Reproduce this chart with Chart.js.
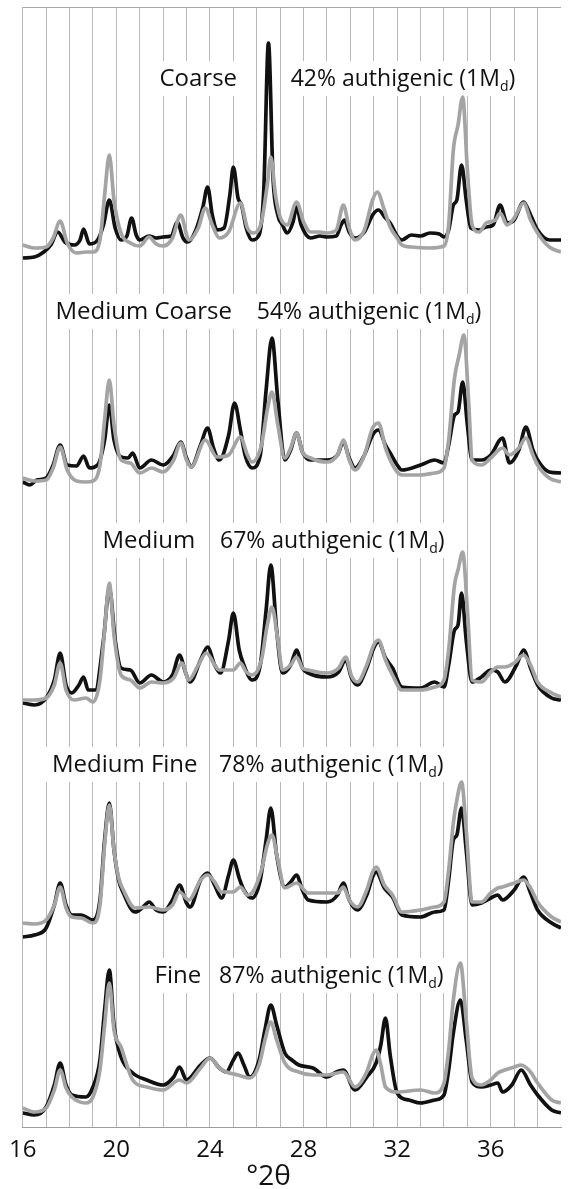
<!DOCTYPE html>
<html><head><meta charset="utf-8">
<script src="https://cdn.jsdelivr.net/npm/chart.js@4.4.1/dist/chart.umd.min.js"></script>
<style>html,body{margin:0;padding:0;background:#fff;}canvas{display:block;}</style>
</head><body>
<canvas id="c" width="570" height="1189"></canvas>
<script>
// ---------- data ----------
const xTickLabels = [16, 20, 24, 28, 32, 36];
const panelNames = ['Coarse', 'Medium Coarse', 'Medium', 'Medium Fine', 'Fine'];
const authigenicPct = [42, 54, 67, 78, 87];
const panelOffsets = [840, 620, 400, 180, 0];

const coarseBlack = [[16.0,29],[16.5,30],[16.9,35],[17.2,42],[17.5,55],[17.8,45],[18.2,42],[18.45,47],[18.6,58],[18.85,43],[19.2,47],[19.45,62],[19.7,87],[19.95,59],[20.2,47],[20.45,51],[20.65,69],[20.85,52],[21.0,47],[21.4,51],[21.7,49],[22.0,50],[22.35,51],[22.6,65],[22.85,49],[23.05,45],[23.4,57],[23.7,80],[23.9,100],[24.1,72],[24.3,57],[24.6,59],[24.85,92],[25.0,120],[25.2,89],[25.35,82],[25.55,59],[25.8,47],[26.1,52],[26.3,97],[26.5,244],[26.7,107],[26.9,72],[27.1,62],[27.3,54],[27.55,65],[27.7,80],[27.9,62],[28.3,49],[28.7,51],[29.0,50],[29.4,51],[29.6,62],[29.75,67],[29.95,55],[30.2,49],[30.6,55],[30.95,72],[31.2,77],[31.5,69],[31.7,64],[32.0,51],[32.2,47],[32.6,52],[33.0,51],[33.4,54],[33.8,53],[34.0,50],[34.2,57],[34.4,82],[34.55,87],[34.75,122],[34.95,87],[35.15,59],[35.5,57],[35.8,60],[36.1,62],[36.4,82],[36.7,64],[37.0,67],[37.4,85],[37.7,72],[38.0,57],[38.5,47],[39.0,47]];
const coarseGray = [[16.0,42],[16.5,39],[17.0,40],[17.3,49],[17.6,66],[17.9,44],[18.3,34],[18.7,35],[19.0,35],[19.3,47],[19.5,92],[19.7,132],[19.9,87],[20.2,54],[20.6,44],[21.0,41],[21.4,50],[21.7,43],[22.0,41],[22.4,49],[22.75,72],[23.1,47],[23.5,59],[23.8,79],[24.1,62],[24.4,49],[24.8,55],[25.3,84],[25.6,59],[25.85,54],[26.2,65],[26.45,102],[26.6,130],[26.8,92],[27.0,70],[27.3,62],[27.7,85],[28.0,65],[28.3,55],[28.7,55],[29.0,54],[29.4,57],[29.7,82],[29.95,59],[30.2,47],[30.6,57],[30.95,87],[31.15,95],[31.45,77],[31.7,60],[32.0,49],[32.2,42],[32.6,40],[33.4,39],[34.0,41],[34.2,62],[34.4,137],[34.6,162],[34.8,190],[35.0,117],[35.2,62],[35.5,55],[35.8,64],[36.2,67],[36.4,74],[36.7,62],[37.0,69],[37.4,84],[37.7,67],[38.0,54],[38.5,40],[39.0,35]];

const medCoarseBlack = [[16.0,25],[16.3,22],[16.6,27],[17.0,29],[17.3,42],[17.6,62],[17.9,42],[18.3,41],[18.6,51],[18.85,39],[19.2,42],[19.5,67],[19.7,102],[19.9,67],[20.2,50],[20.5,49],[20.7,54],[21.0,39],[21.5,47],[22.0,42],[22.45,52],[22.75,65],[23.0,49],[23.2,40],[23.6,62],[23.9,79],[24.15,59],[24.4,47],[24.8,72],[25.05,104],[25.3,77],[25.5,52],[25.8,39],[26.15,52],[26.4,117],[26.65,169],[26.9,107],[27.2,47],[27.45,57],[27.7,74],[27.95,55],[28.3,47],[29.0,47],[29.45,52],[29.7,65],[29.95,49],[30.2,39],[30.6,52],[30.95,72],[31.2,77],[31.5,62],[31.7,54],[32.0,42],[32.2,37],[33.0,42],[33.6,47],[34.0,44],[34.2,62],[34.45,92],[34.6,95],[34.8,125],[35.0,82],[35.2,47],[35.6,47],[36.0,52],[36.5,69],[36.8,44],[37.2,57],[37.5,80],[37.8,57],[38.0,47],[38.5,35],[39.0,34]];
const medCoarseGray = [[16.0,29],[16.5,26],[17.0,27],[17.3,39],[17.6,60],[17.9,37],[18.3,26],[18.7,25],[19.0,26],[19.3,42],[19.5,87],[19.7,127],[19.9,82],[20.2,47],[20.6,44],[21.0,34],[21.5,39],[22.0,35],[22.45,47],[22.75,64],[23.0,47],[23.2,40],[23.8,67],[24.3,50],[24.8,52],[25.3,70],[25.6,52],[25.8,45],[26.2,62],[26.45,97],[26.65,115],[26.9,82],[27.2,49],[27.45,59],[27.7,74],[27.95,55],[28.3,49],[29.0,45],[29.45,52],[29.7,67],[29.95,47],[30.2,37],[30.6,52],[30.95,79],[31.2,84],[31.5,59],[31.7,47],[32.0,35],[32.2,32],[33.0,32],[33.6,34],[34.0,39],[34.2,67],[34.45,129],[34.65,152],[34.85,172],[35.05,107],[35.2,47],[35.6,42],[36.0,49],[36.5,59],[36.8,52],[37.2,59],[37.5,69],[37.8,52],[38.0,42],[38.5,29],[39.0,25]];

const mediumBlack = [[16.0,24],[16.5,22],[17.0,29],[17.35,47],[17.6,74],[17.85,42],[18.1,34],[18.4,42],[18.6,50],[18.8,37],[19.1,37],[19.45,87],[19.7,139],[19.95,87],[20.2,59],[20.6,57],[21.0,44],[21.5,52],[22.0,45],[22.4,52],[22.7,72],[22.95,55],[23.15,45],[23.6,67],[23.9,80],[24.2,62],[24.45,54],[24.8,87],[25.0,114],[25.25,77],[25.45,62],[25.8,47],[26.15,62],[26.4,117],[26.6,162],[26.85,97],[27.1,54],[27.45,62],[27.7,77],[27.95,59],[28.2,54],[29.0,50],[29.5,55],[29.8,67],[30.05,49],[30.3,42],[30.7,59],[31.0,79],[31.2,85],[31.5,69],[31.8,59],[32.2,40],[33.0,39],[33.6,45],[34.0,40],[34.2,62],[34.45,97],[34.6,102],[34.75,134],[34.95,87],[35.2,45],[35.6,50],[36.0,57],[36.3,55],[36.6,45],[37.1,62],[37.4,77],[37.7,59],[38.0,42],[38.6,29],[39.0,27]];
const mediumGray = [[16.0,27],[16.5,27],[17.0,29],[17.35,42],[17.6,64],[17.85,37],[18.2,27],[18.7,29],[19.0,25],[19.3,47],[19.5,97],[19.7,144],[19.9,92],[20.2,52],[20.6,47],[21.0,39],[21.5,45],[22.0,44],[22.45,49],[22.8,64],[23.1,47],[23.5,62],[23.85,74],[24.2,62],[24.4,57],[25.0,57],[25.3,64],[25.55,55],[25.8,52],[26.2,67],[26.45,102],[26.65,120],[26.9,87],[27.1,57],[27.45,62],[27.7,70],[27.95,59],[28.2,57],[29.0,54],[29.5,59],[29.8,70],[30.05,51],[30.3,45],[30.7,62],[31.0,82],[31.2,87],[31.5,67],[31.8,52],[32.2,37],[33.0,37],[33.6,40],[34.0,47],[34.2,77],[34.45,142],[34.6,157],[34.8,175],[35.0,117],[35.2,47],[35.6,45],[36.0,55],[36.3,60],[36.6,60],[37.0,64],[37.4,72],[37.7,62],[38.0,45],[38.6,34],[39.0,30]];

const medFineBlack = [[16.0,10],[16.5,12],[17.0,19],[17.35,42],[17.6,64],[17.85,42],[18.1,32],[18.5,32],[19.0,27],[19.3,47],[19.5,107],[19.7,144],[19.9,97],[20.1,67],[20.3,54],[20.8,35],[21.1,39],[21.4,45],[21.7,37],[22.0,35],[22.4,47],[22.7,62],[23.0,44],[23.15,40],[23.6,67],[23.9,74],[24.2,62],[24.5,49],[24.8,72],[25.0,87],[25.25,69],[25.45,57],[25.8,49],[26.15,67],[26.4,107],[26.6,139],[26.85,92],[27.2,60],[27.45,65],[27.7,72],[27.95,57],[28.2,47],[29.0,45],[29.45,52],[29.7,64],[29.95,47],[30.3,37],[30.7,52],[30.95,70],[31.1,75],[31.45,59],[31.8,50],[32.2,32],[33.0,30],[33.6,35],[34.0,37],[34.2,67],[34.4,107],[34.55,112],[34.75,139],[34.95,97],[35.2,42],[35.6,44],[36.0,49],[36.3,52],[36.5,47],[37.0,57],[37.4,70],[37.7,54],[38.0,37],[38.6,24],[39.0,19]];
const medFineGray = [[16.0,24],[16.5,23],[17.0,27],[17.35,42],[17.6,60],[17.85,39],[18.1,30],[18.5,29],[19.0,24],[19.3,42],[19.5,102],[19.7,142],[19.9,97],[20.1,69],[20.3,57],[20.8,39],[21.4,40],[22.0,37],[22.4,42],[22.7,55],[23.1,47],[23.6,67],[23.9,72],[24.2,65],[24.5,55],[25.0,55],[25.3,60],[25.6,52],[25.8,54],[26.2,77],[26.45,102],[26.65,112],[26.9,87],[27.2,59],[27.7,64],[28.2,54],[29.0,54],[29.45,54],[29.7,60],[29.95,47],[30.3,40],[30.7,57],[30.95,75],[31.1,80],[31.45,62],[31.8,52],[32.2,35],[33.0,37],[33.6,40],[34.0,45],[34.2,77],[34.4,124],[34.55,147],[34.75,165],[34.95,117],[35.2,45],[35.6,45],[36.0,54],[36.3,59],[36.5,60],[37.0,64],[37.4,67],[37.7,59],[38.0,45],[38.6,30],[39.0,25]];

const fineBlack = [[16.0,14],[16.5,12],[17.0,20],[17.35,42],[17.6,64],[17.85,42],[18.1,32],[18.7,30],[19.0,40],[19.3,67],[19.5,117],[19.7,157],[19.9,102],[20.2,70],[20.7,54],[21.3,47],[22.0,42],[22.45,50],[22.7,60],[23.0,47],[23.6,62],[24.0,69],[24.4,59],[24.7,55],[25.0,67],[25.2,74],[25.45,62],[25.7,50],[26.1,67],[26.35,97],[26.6,122],[26.85,102],[27.2,74],[27.5,67],[27.8,62],[28.4,59],[29.0,50],[29.4,55],[29.7,57],[30.2,37],[30.7,50],[31.1,64],[31.3,82],[31.5,109],[31.7,72],[32.0,34],[32.5,27],[33.0,24],[33.6,27],[34.0,32],[34.2,57],[34.4,94],[34.7,127],[34.95,87],[35.2,45],[35.6,40],[36.0,42],[36.3,44],[36.5,35],[36.9,42],[37.3,57],[37.7,42],[38.0,32],[38.6,17],[39.0,14]];
const fineGray = [[16.0,19],[16.5,15],[17.0,19],[17.35,37],[17.6,57],[17.85,39],[18.1,30],[18.7,24],[19.0,30],[19.3,57],[19.5,102],[19.7,144],[19.9,97],[20.2,80],[20.7,47],[21.3,40],[22.0,37],[22.7,47],[23.0,44],[23.6,59],[24.0,69],[24.4,59],[24.7,55],[25.2,52],[25.7,49],[26.1,62],[26.35,87],[26.6,105],[26.85,87],[27.2,64],[27.8,55],[28.4,52],[29.0,52],[29.7,55],[30.2,40],[30.7,55],[30.95,72],[31.1,77],[31.3,62],[31.5,40],[32.0,35],[33.0,37],[33.6,34],[34.0,44],[34.2,77],[34.4,127],[34.7,164],[34.95,107],[35.2,49],[35.6,42],[36.0,47],[36.3,54],[36.6,57],[37.0,60],[37.3,62],[37.7,55],[38.0,44],[38.6,27],[39.0,24]];

const blackSeries = [coarseBlack, medCoarseBlack, mediumBlack, medFineBlack, fineBlack];
const graySeries = [coarseGray, medCoarseGray, mediumGray, medFineGray, fineGray];

// label anchors (x in °2θ, y = text baseline in plotted value units)
const nameLabelX = [23.5, 21.17, 21.39, 20.36, 22.63];
const pctLabelX = [27.45, 26.0, 24.43, 24.39, 24.39];
const labelBaseline = [1041, 808, 579, 355, 144];

// ---------- chart ----------
const FONT = '"Open Sans", "Noto Sans", sans-serif';
const datasets = [];
graySeries.forEach((s, i) => datasets.push({
  data: s.map(([x, v]) => ({x, y: v + panelOffsets[i]})),
  borderColor: '#a4a4a4', borderWidth: 3.7, order: 0
}));
blackSeries.forEach((s, i) => datasets.push({
  data: s.map(([x, v]) => ({x, y: v + panelOffsets[i]})),
  borderColor: '#111111', borderWidth: 3.7, order: 1
}));

function boxText(ctx, x, by, parts) {
  let w = 0;
  parts.forEach(p => { ctx.font = p.size + 'px ' + FONT; p.w = ctx.measureText(p.t).width; w += p.w; });
  ctx.fillStyle = '#fff';
  ctx.fillRect(x - 6, by - 25, w + 12, 35);
  ctx.fillStyle = '#111';
  ctx.textAlign = 'left'; ctx.textBaseline = 'alphabetic';
  let cx = x;
  parts.forEach(p => { ctx.font = p.size + 'px ' + FONT; ctx.fillText(p.t, cx, by + (p.dy || 0)); cx += p.w; });
  return w;
}

const annot = {
  id: 'annot',
  beforeDatasetsDraw(chart) {
    const {ctx, chartArea, scales: {x, y}} = chart;
    ctx.save();
    ctx.strokeStyle = '#a8a8a8'; ctx.lineWidth = 1;
    ctx.beginPath(); ctx.moveTo(chartArea.left, chartArea.top + 0.5); ctx.lineTo(chartArea.right, chartArea.top + 0.5); ctx.stroke();
    panelNames.forEach((name, i) => {
      const by = y.getPixelForValue(labelBaseline[i]);
      ctx.font = '24px ' + FONT;
      const nw = ctx.measureText(name).width;
      boxText(ctx, x.getPixelForValue(nameLabelX[i]) - nw / 2, by, [{t: name, size: 24}]);
      boxText(ctx, x.getPixelForValue(pctLabelX[i]), by, [
        {t: authigenicPct[i] + '% authigenic (1M', size: 23},
        {t: 'd', size: 14, dy: 5},
        {t: ')', size: 23}
      ]);
    });
    ctx.restore();
  },
  afterDraw(chart) {
    const {ctx, scales: {x}} = chart;
    ctx.save();
    ctx.font = '28px ' + FONT; ctx.fillStyle = '#111';
    ctx.textAlign = 'center'; ctx.textBaseline = 'alphabetic';
    ctx.fillText('°2θ', x.getPixelForValue(26.5), chart.height - 4);
    ctx.restore();
  }
};

new Chart(document.getElementById('c'), {
  type: 'line',
  data: {datasets},
  plugins: [annot],
  options: {
    responsive: false, animation: false, devicePixelRatio: 1,
    layout: {padding: {left: 14, top: 7, right: 0, bottom: 0}},
    elements: {point: {radius: 0}, line: {cubicInterpolationMode: 'monotone'}},
    plugins: {legend: {display: false}, tooltip: {enabled: false}},
    scales: {
      x: {
        type: 'linear', min: 16, max: 39,
        afterFit(s) { s.height = 62; },
        grid: {color: c => (c.tick && c.tick.value === 39) ? 'rgba(0,0,0,0)' : '#b8b8b8', lineWidth: 1, drawTicks: false},
        border: {color: '#9c9c9c', width: 1},
        ticks: {stepSize: 1, autoSkip: false, maxRotation: 0, padding: 9, color: '#111',
          font: {family: FONT, size: 24},
          callback: v => xTickLabels.includes(v) ? String(v) : ''}
      },
      y: {display: false, min: 0, max: 1120}
    }
  }
});
</script>
</body></html>
